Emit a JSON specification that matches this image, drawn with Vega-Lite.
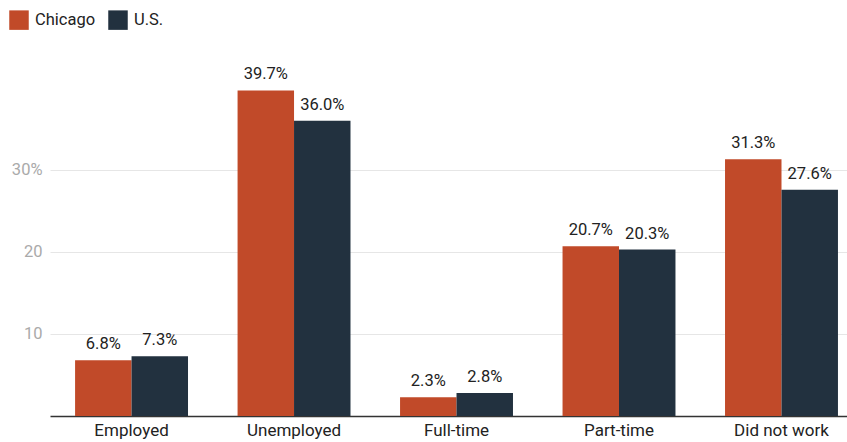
{
  "$schema": "https://vega.github.io/schema/vega-lite/v6.json",
  "width": 797,
  "height": 360,
  "autosize": {"type": "none"},
  "padding": {"left": 50, "top": 56, "right": 0, "bottom": 26},
  "background": "white",
  "config": {
    "font": "Roboto",
    "view": {"stroke": null}
  },
  "data": {
    "values": [
      {"category": "Employed", "series": "Chicago", "value": 6.8},
      {"category": "Employed", "series": "U.S.", "value": 7.3},
      {"category": "Unemployed", "series": "Chicago", "value": 39.7},
      {"category": "Unemployed", "series": "U.S.", "value": 36.0},
      {"category": "Full-time", "series": "Chicago", "value": 2.3},
      {"category": "Full-time", "series": "U.S.", "value": 2.8},
      {"category": "Part-time", "series": "Chicago", "value": 20.7},
      {"category": "Part-time", "series": "U.S.", "value": 20.3},
      {"category": "Did not work", "series": "Chicago", "value": 31.3},
      {"category": "Did not work", "series": "U.S.", "value": 27.6}
    ]
  },
  "transform": [
    {"calculate": "format(datum.value, '.1f') + '%'", "as": "label"}
  ],
  "encoding": {
    "x": {
      "field": "category",
      "type": "nominal",
      "sort": ["Employed", "Unemployed", "Full-time", "Part-time", "Did not work"],
      "scale": {"paddingInner": 0.305, "paddingOuter": 0.105, "align": 0.735},
      "axis": {
        "title": null,
        "labelAngle": 0,
        "labelFontSize": 17,
        "labelColor": "#222222",
        "labelPadding": 6,
        "ticks": false,
        "domain": true,
        "domainColor": "#333333",
        "domainWidth": 1.5
      }
    },
    "xOffset": {
      "field": "series",
      "type": "nominal",
      "sort": ["Chicago", "U.S."],
      "scale": {"paddingInner": 0, "paddingOuter": 0}
    },
    "y": {
      "field": "value",
      "type": "quantitative",
      "scale": {"domain": [0, 43.9], "nice": false},
      "axis": {
        "title": null,
        "values": [10, 20, 30],
        "labelExpr": "datum.value == 30 ? '30%' : datum.label",
        "labelFontSize": 16.5,
        "labelColor": "#aaaaaa",
        "labelPadding": 8,
        "ticks": false,
        "domain": false,
        "gridColor": "#e6e6e6",
        "gridWidth": 1
      }
    }
  },
  "layer": [
    {
      "mark": {"type": "bar", "stroke": null},
      "encoding": {
        "color": {
          "field": "series",
          "type": "nominal",
          "sort": ["Chicago", "U.S."],
          "scale": {"domain": ["Chicago", "U.S."], "range": ["#c14a29", "#22313f"]},
          "legend": {
            "title": null,
            "orient": "none",
            "direction": "horizontal",
            "legendX": -41,
            "legendY": -46,
            "symbolType": "square",
            "symbolSize": 380,
            "symbolStrokeWidth": 0,
            "symbolOpacity": 1,
            "labelFontSize": 16.5,
            "labelColor": "#222222",
            "columnPadding": 12,
            "labelOffset": 6
          }
        }
      }
    },
    {
      "mark": {"type": "text", "baseline": "bottom", "dy": -8, "fontSize": 16.5, "color": "#222222"},
      "encoding": {
        "text": {"field": "label", "type": "nominal"}
      }
    }
  ]
}
